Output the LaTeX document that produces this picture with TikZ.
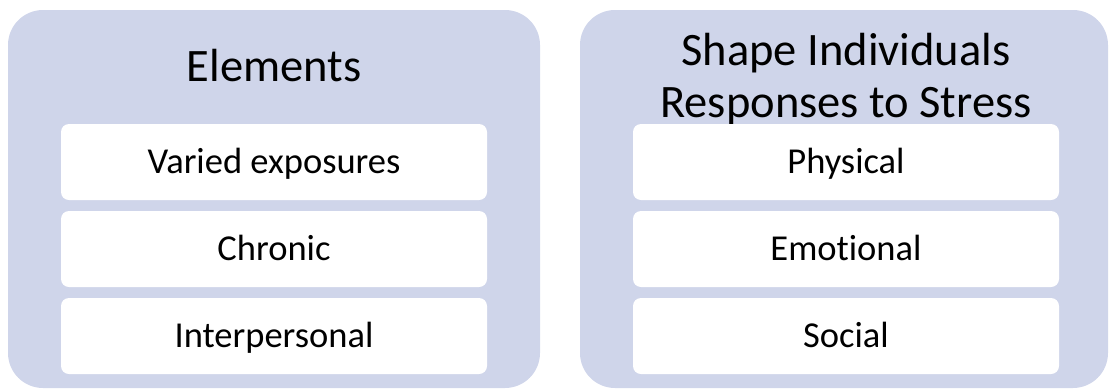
\documentclass[tikz,border=0pt]{standalone}
\usepackage{fontspec}
\setmainfont{Carlito}[Ligatures={NoCommon}]
\definecolor{panelfill}{HTML}{CFD5EA}
\begin{document}
\begin{tikzpicture}[x=1pt,y=-1pt,
  panel/.style={fill=panelfill, draw=none, rounded corners=35pt,
    minimum width=#1, minimum height=378pt, inner sep=0pt},
  item/.style={fill=white, draw=none, rounded corners=8pt,
    minimum width=426pt, minimum height=76pt, inner sep=0pt,
    font=\fontsize{36.5}{44}\selectfont, text height=23.5pt, text depth=0pt},
  heading/.style={font=\fontsize{46.5}{52}\selectfont, inner sep=0pt, anchor=base}]
\useasboundingbox (0,0) rectangle (1109,389);

% two background panels
\node[panel=532pt] (left) at (274,199) {};
\node[panel=528pt] (right) at (844,199) {};

% panel headings
\node[heading] (lhead) at (274,81) {Elements};
\node[heading] (rhead) at (846,65)
  {\begin{tabular}[t]{@{}c@{}}Shape Individuals\\Responses to Stress\end{tabular}};

% left column items
\node[item] (l1) at (274,162) {Varied exposures};
\node[item] (l2) at (274,249) {Chronic};
\node[item] (l3) at (274,336) {Interpersonal};

% right column items
\node[item] (r1) at (846,162) {Physical};
\node[item] (r2) at (846,249) {Emotional};
\node[item] (r3) at (846,336) {Social};
\end{tikzpicture}
\end{document}
